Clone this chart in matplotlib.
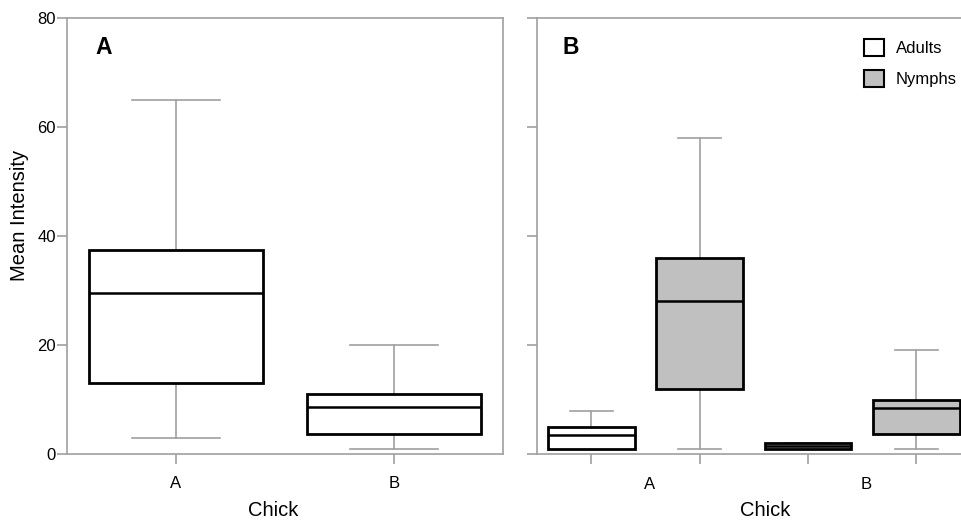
import numpy as np
import matplotlib.pyplot as plt
from matplotlib.patches import Patch

plt.rcParams['font.family'] = ['Liberation Sans', 'DejaVu Sans']

# panel A: mean intensity per chick
chicks = ['A', 'B']
a_whislo = [3, 1]
a_q1 = [13, 3.7]
a_med = [29.5, 8.7]
a_q3 = [37.5, 11]
a_whishi = [65, 20]

# panel B: adults / nymphs per chick
b_groups = ['Adults A', 'Nymphs A', 'Adults B', 'Nymphs B']
b_whislo = [1, 1, 1, 1]
b_q1 = [1, 12, 1, 3.6]
b_med = [3.4, 28, 1.5, 8.4]
b_q3 = [5, 36, 2, 9.9]
b_whishi = [7.8, 58, 2, 19]
b_fill = ['white', '#c0c0c0', '#c0c0c0', '#c0c0c0']

gray = '#a0a0a0'


def make_stats(lo, q1, med, q3, hi):
    return [dict(whislo=l, q1=a, med=m, q3=b, whishi=h, fliers=[])
            for l, a, m, b, h in zip(lo, q1, med, q3, hi)]


def style_axes(ax):
    for s in ax.spines.values():
        s.set_color(gray)
        s.set_linewidth(1.2)
    ax.tick_params(axis='both', colors=gray, length=7, width=1.2,
                   labelcolor='black', labelsize=12, pad=1)
    ax.set_ylim(0, 80)
    ax.set_yticks([0, 20, 40, 60, 80])


def draw_boxes(ax, stats, positions, fills):
    bp = ax.bxp(stats, positions=positions, widths=0.8, patch_artist=True,
                showfliers=False,
                boxprops=dict(edgecolor='black', linewidth=2),
                medianprops=dict(color='black', linewidth=1.8),
                whiskerprops=dict(color=gray, linewidth=1.2),
                capprops=dict(color=gray, linewidth=1.2),
                capwidths=0.4)
    for patch, c in zip(bp['boxes'], fills):
        patch.set_facecolor(c)
        patch.set_zorder(3)
    for m in bp['medians']:
        m.set_zorder(4)


W, H = 962, 522
fig = plt.figure(figsize=(W / 100, H / 100), dpi=100)
ax1 = fig.add_axes([67 / W, 68 / H, 436 / W, 436 / H])
ax2 = fig.add_axes([537 / W, 68 / H, 425 / W, 436 / H])

# panel A
draw_boxes(ax1, make_stats(a_whislo, a_q1, a_med, a_q3, a_whishi),
           [1, 2], ['white', 'white'])
style_axes(ax1)
ax1.set_xlim(0.5, 2.5)
ax1.set_xticks([1, 2])
ax1.set_xticklabels([])
for xp, lab in zip([1, 2], chicks):
    ax1.text(xp, -5.4, lab, ha='center', va='center', fontsize=12)
ax1.text(0.066, 0.932, 'A', transform=ax1.transAxes, fontsize=16.5,
         fontweight='bold', va='center')

# panel B
draw_boxes(ax2, make_stats(b_whislo, b_q1, b_med, b_q3, b_whishi),
           [1, 2, 3, 4], b_fill)
style_axes(ax2)
ax2.spines['right'].set_visible(False)
ax2.set_xlim(0.5, 4.42)
ax2.set_xticks([1, 2, 3, 4])
ax2.set_xticklabels([])
ax2.set_yticklabels([])
for xp, lab in zip([1.54, 3.54], chicks):
    ax2.text(xp, -5.6, lab, ha='center', va='center', fontsize=12)
ax2.text(0.061, 0.932, 'B', transform=ax2.transAxes, fontsize=16.5,
         fontweight='bold', va='center')

# axis titles
fig.text(273 / W, 1 - 510 / H, 'Chick', ha='center', va='center', fontsize=14.5)
fig.text(765 / W, 1 - 510 / H, 'Chick', ha='center', va='center', fontsize=14.5)
fig.text(20 / W, 1 - 215 / H, 'Mean Intensity', ha='center', va='center',
         rotation=90, fontsize=14.5)

handles = [Patch(facecolor='white', edgecolor='black', linewidth=1.5, label='Adults'),
           Patch(facecolor='#c0c0c0', edgecolor='black', linewidth=1.5, label='Nymphs')]
ax2.legend(handles=handles, loc='upper left', frameon=False, fontsize=12,
           handlelength=1.2, handleheight=1.2, labelspacing=0.84,
           handletextpad=0.7, borderpad=0, borderaxespad=0,
           bbox_to_anchor=(864 / W, (H - 39) / H),
           bbox_transform=fig.transFigure)

fig.savefig('out.png', dpi=100)
